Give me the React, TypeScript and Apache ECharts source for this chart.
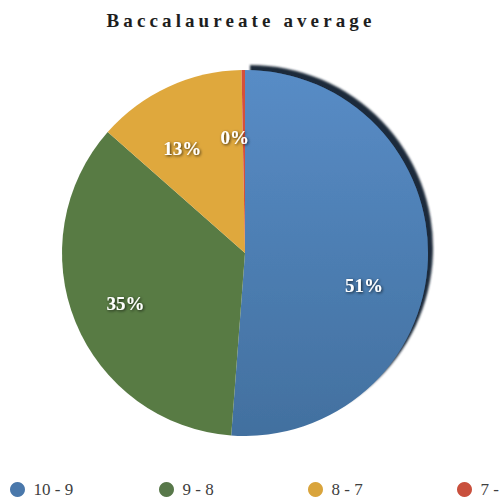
import React, { useEffect, useRef } from "react";
import * as echarts from "echarts";

const TITLE = "Baccalaureate average";
const categories = ["10 - 9", "9 - 8", "8 - 7", "7 -"];
const shares = [51.2, 35.3, 13.2, 0.3];

const sliceColors = ["#4f82bb", "#587b44", "#dfa83d", "#d5503c"];
const legendColors = ["#4a78ab", "#58784a", "#d9a43c", "#c9503d"];

export default function App() {
  const ref = useRef<HTMLDivElement>(null);

  useEffect(() => {
    if (!ref.current) return;
    const chart = echarts.init(ref.current, undefined, { renderer: "svg" });

    const blueFill = new echarts.graphic.LinearGradient(0, 0, 0, 1, [
      { offset: 0, color: "#588cc6" },
      { offset: 1, color: "#42709f" },
    ]);

    const mainData = categories.map((name, i) => ({
      name,
      value: shares[i],
      itemStyle:
        i === 0
          ? {
              color: blueFill,
              shadowColor: "#1d2a3a",
              shadowBlur: 2,
              shadowOffsetX: 5,
              shadowOffsetY: -5,
            }
          : { color: sliceColors[i] },
    }));

    const labelOffsets: number[][] = [
      [0, 14],
      [8, -12],
      [0, -2],
      [0, -2],
    ];

    const labelData = categories.map((name, i) => ({
      name,
      value: shares[i],
      label: { offset: labelOffsets[i] },
    }));

    const legendStep = 149;
    const legends = categories.map((name, i) => ({
      orient: "horizontal",
      left: 10 + legendStep * i,
      top: 481,
      width: 200,
      padding: 0,
      itemWidth: 22,
      itemHeight: 15,
      icon: "circle",
      selectedMode: false,
      textStyle: {
        fontFamily: "'Liberation Serif', 'Times New Roman', serif",
        fontSize: 17,
        color: "#404040",
      },
      data: [{ name, itemStyle: { color: legendColors[i] } }],
    }));

    chart.setOption({
      animation: false,
      backgroundColor: "#ffffff",
      graphic: [
        {
          type: "text",
          x: 241,
          y: 20,
          style: {
            text: TITLE,
            textAlign: "center",
            textVerticalAlign: "middle",
            fontFamily: "'Liberation Serif', 'Times New Roman', serif",
            fontWeight: "bold",
            fontSize: 19,
            fill: "#1e1e1e",
          },
        },
      ],
      legend: legends,
      series: [
        {
          type: "pie",
          name: "main",
          center: [245, 253],
          radius: [0, 183],
          startAngle: 90,
          clockwise: true,
          avoidLabelOverlap: false,
          silent: true,
          itemStyle: { borderWidth: 0 },
          label: { show: false },
          labelLine: { show: false },
          emphasis: { disabled: true },
          data: mainData,
        },
        {
          type: "pie",
          name: "labels",
          center: [236, 267],
          radius: [0, 250],
          startAngle: 90,
          clockwise: true,
          avoidLabelOverlap: false,
          silent: true,
          z: 5,
          itemStyle: { color: "rgba(0,0,0,0)", borderWidth: 0 },
          label: {
            show: true,
            position: "inside",
            formatter: (p: any) => Math.round(p.value) + "%",
            fontFamily: "'Liberation Serif', 'Times New Roman', serif",
            fontWeight: "bold",
            fontSize: 19,
            color: "#ffffff",
            textShadowColor: "rgba(0,0,0,0.75)",
            textShadowBlur: 3,
            textShadowOffsetX: 1,
            textShadowOffsetY: 1,
          },
          labelLine: { show: false },
          emphasis: { disabled: true },
          data: labelData,
        },
      ],
    });

    const spaceTitle = () => {
      const el = ref.current;
      if (!el) return;
      el.querySelectorAll("text").forEach((t) => {
        if (t.textContent === TITLE) {
          t.setAttribute("letter-spacing", "4.1");
        }
      });
    };
    spaceTitle();
    chart.on("finished", spaceTitle);
    const timer = window.setTimeout(spaceTitle, 50);

    return () => {
      window.clearTimeout(timer);
      chart.dispose();
    };
  }, []);

  return (
    <div
      ref={ref}
      style={{ position: "absolute", left: 0, top: 0, width: 502, height: 499 }}
    />
  );
}
